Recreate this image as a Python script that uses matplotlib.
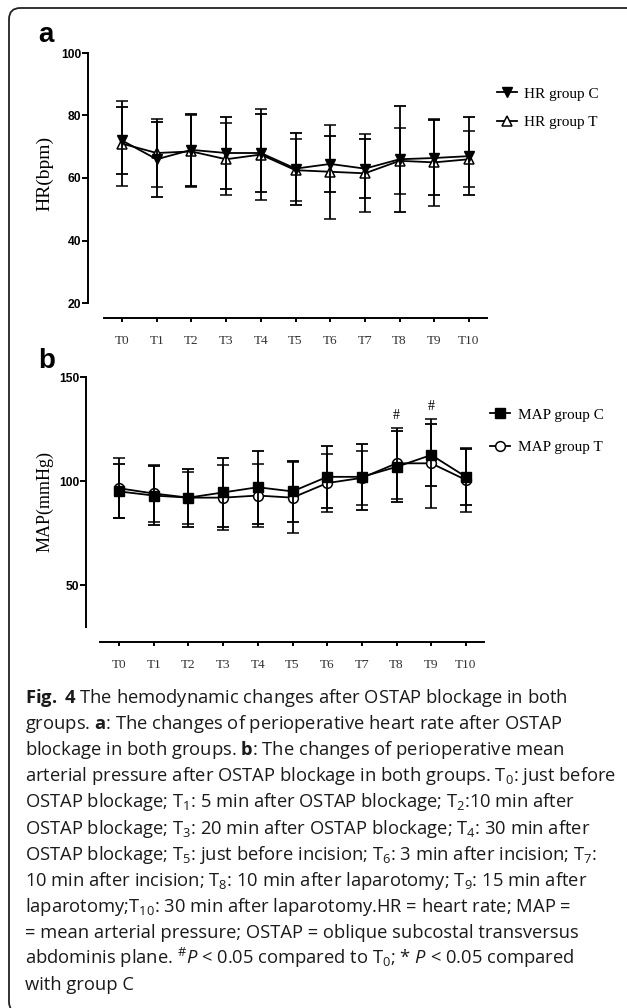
import numpy as np
import matplotlib
matplotlib.use('Agg')
import matplotlib.pyplot as plt
from matplotlib.patches import FancyBboxPatch
from matplotlib.lines import Line2D

plt.rcParams['mathtext.fontset'] = 'custom'
plt.rcParams['mathtext.rm'] = 'Open Sans'
plt.rcParams['mathtext.it'] = 'Open Sans:italic'
plt.rcParams['mathtext.bf'] = 'Open Sans:bold'

# time points
times = ['T0', 'T1', 'T2', 'T3', 'T4', 'T5', 'T6', 'T7', 'T8', 'T9', 'T10']

# heart rate, mean and SD
hr_c = [72, 66, 69, 68, 68, 63, 64.5, 63, 66, 66.4, 67]
hr_c_sd = [10.7, 12, 11.5, 11.5, 12.5, 11.5, 9, 9.5, 17, 12, 12.5]
hr_t = [71, 68, 68.5, 66, 67.5, 62.5, 62, 61.5, 65.5, 65, 66]
hr_t_sd = [13.5, 11, 11.5, 11.5, 14.5, 10, 15, 12.5, 10.5, 14, 9]

# mean arterial pressure, mean and SD
map_c = [95, 93, 92, 94.5, 97, 95, 102, 102, 106.8, 112.5, 102]
map_c_sd = [13, 14, 14, 16.5, 17.5, 14.5, 15, 16, 17, 15, 13.5]
map_t = [96.5, 94, 92, 92, 93, 92, 99, 101.5, 108.5, 108.5, 100.5]
map_t_sd = [14.5, 13.5, 12.5, 15.5, 15, 17, 14, 13, 17, 21.5, 15.5]
map_sig = ['', '', '', '', '', '', '', '', '#', '#', '']

hr_ticks = [20, 40, 60, 80, 100]
map_ticks = [50, 100, 150]

caption = [
    r"$\mathbf{Fig.}$ $\mathbf{4}$ The hemodynamic changes after OSTAP blockage in both",
    r"groups. $\mathbf{a}$: The changes of perioperative heart rate after OSTAP",
    r"blockage in both groups. $\mathbf{b}$: The changes of perioperative mean",
    r"arterial pressure after OSTAP blockage in both groups. T$_0$: just before",
    r"OSTAP blockage; T$_1$: 5 min after OSTAP blockage; T$_2$:10 min after",
    r"OSTAP blockage; T$_3$: 20 min after OSTAP blockage; T$_4$: 30 min after",
    r"OSTAP blockage; T$_5$: just before incision; T$_6$: 3 min after incision; T$_7$:",
    r"10 min after incision; T$_8$: 10 min after laparotomy; T$_9$: 15 min after",
    r"laparotomy;T$_{10}$: 30 min after laparotomy.HR = heart rate; MAP =",
    r"= mean arterial pressure; OSTAP = oblique subcostal transversus",
    r"abdominis plane. $^{\#}P$ < 0.05 compared to T$_0$; * $P$ < 0.05 compared",
    r"with group C",
]

W, H = 627, 1008
fig = plt.figure(figsize=(W / 100, H / 100), dpi=100)


def fx(px):
    return px / W


def fy(py):
    return 1 - py / H


serif = 'Liberation Serif'
sans = 'Liberation Sans'


def panel(ax, c, c_sd, t, t_sd, mk_c, mk_t, yticks, ybounds, off):
    x = np.arange(len(times))
    ax.errorbar(x, t, yerr=t_sd, color='black', lw=1.3, elinewidth=1.3,
                capsize=4, capthick=1.3, marker=mk_t, ms=7, mfc='white',
                mec='black', mew=1.1, zorder=3)
    ax.errorbar(x, c, yerr=c_sd, color='black', lw=1.3, elinewidth=1.3,
                capsize=4, capthick=1.3, marker=mk_c, ms=7, mfc='black',
                mec='black', zorder=4)
    for s in ['top', 'right']:
        ax.spines[s].set_visible(False)
    ax.spines['left'].set_position(('outward', off))
    ax.spines['left'].set_bounds(*ybounds)
    ax.spines['left'].set_linewidth(1.4)
    ax.spines['bottom'].set_linewidth(1.4)
    ax.set_yticks(yticks)
    ax.set_yticklabels([str(v) for v in yticks], fontfamily=sans,
                       fontweight='bold', fontsize=8.7)
    ax.set_xticks(x)
    ax.set_xticklabels(times, fontfamily=serif, fontsize=9.5, color='#333333')
    ax.tick_params(axis='y', length=4, width=1.4, pad=1)
    ax.tick_params(axis='x', length=3, width=1.4, pad=9)
    ax.patch.set_visible(False)
    handles = [
        Line2D([], [], color='black', lw=1.3, marker=mk_c, ms=7, mfc='black'),
        Line2D([], [], color='black', lw=1.3, marker=mk_t, ms=7, mfc='white',
               mew=1.1),
    ]
    return handles


ax_a = fig.add_axes([fx(104), fy(318), 383 / W, 265 / H])
h = panel(ax_a, hr_c, hr_c_sd, hr_t, hr_t_sd, 'v', '^', hr_ticks, (20, 100), 11.5)
ax_a.set_xlim(-0.52, 10.52)
ax_a.set_ylim(15.2, 100)
ax_a.legend(h, ['HR group C', 'HR group T'], loc='center left',
            bbox_to_anchor=(fx(497), fy(108)), bbox_transform=fig.transFigure,
            frameon=False, prop={'family': serif, 'size': 11},
            handlelength=1.3, handletextpad=0.5, labelspacing=0.95,
            borderpad=0, borderaxespad=0)

ax_b = fig.add_axes([fx(100), fy(642), 384 / W, 265 / H])
h = panel(ax_b, map_c, map_c_sd, map_t, map_t_sd, 's', 'o', map_ticks, (30, 150), 10)
ax_b.set_xlim(-0.55, 10.52)
ax_b.set_ylim(22.6, 150)
for i, s in enumerate(map_sig):
    if s:
        top = max(map_c[i] + map_c_sd[i], map_t[i] + map_t_sd[i])
        ax_b.annotate(s, (i, top), xytext=(0, 4), textcoords='offset points',
                      ha='center', va='bottom', fontfamily=serif, fontsize=10)
ax_b.legend(h, ['MAP group C', 'MAP group T'], loc='center left',
            bbox_to_anchor=(fx(490), fy(431)), bbox_transform=fig.transFigure,
            frameon=False, prop={'family': serif, 'size': 11},
            handlelength=1.3, handletextpad=0.5, labelspacing=1.2,
            borderpad=0, borderaxespad=0)

# panel letters and axis titles
fig.text(fx(46), fy(35), 'a', fontfamily=sans, fontweight='bold', fontsize=20,
         ha='center', va='center')
fig.text(fx(47), fy(361), 'b', fontfamily=sans, fontweight='bold', fontsize=20,
         ha='center', va='center')
fig.text(fx(45), fy(173), 'HR(bpm)', fontfamily=serif, fontsize=14,
         rotation=90, ha='center', va='center')
fig.text(fx(45), fy(501), 'MAP(mmHg)', fontfamily=serif, fontsize=13,
         rotation=90, ha='center', va='center')

# caption
for i, line in enumerate(caption):
    fig.text(fx(25), fy(703 + i * 26.1), line, fontfamily='Open Sans',
             fontsize=13.2, va='baseline', ha='left', color='#1a1a1a')

# rounded frame, right and bottom edges run off the image
frame = FancyBboxPatch((fx(9), fy(1013)), fx(632), 1005 / H,
                       boxstyle='round,pad=0,rounding_size=0.018',
                       transform=fig.transFigure, fill=False, lw=1.3,
                       ec='#222222', mutation_aspect=W / H)
fig.patches.append(frame)

fig.savefig('out.png', dpi=100)
